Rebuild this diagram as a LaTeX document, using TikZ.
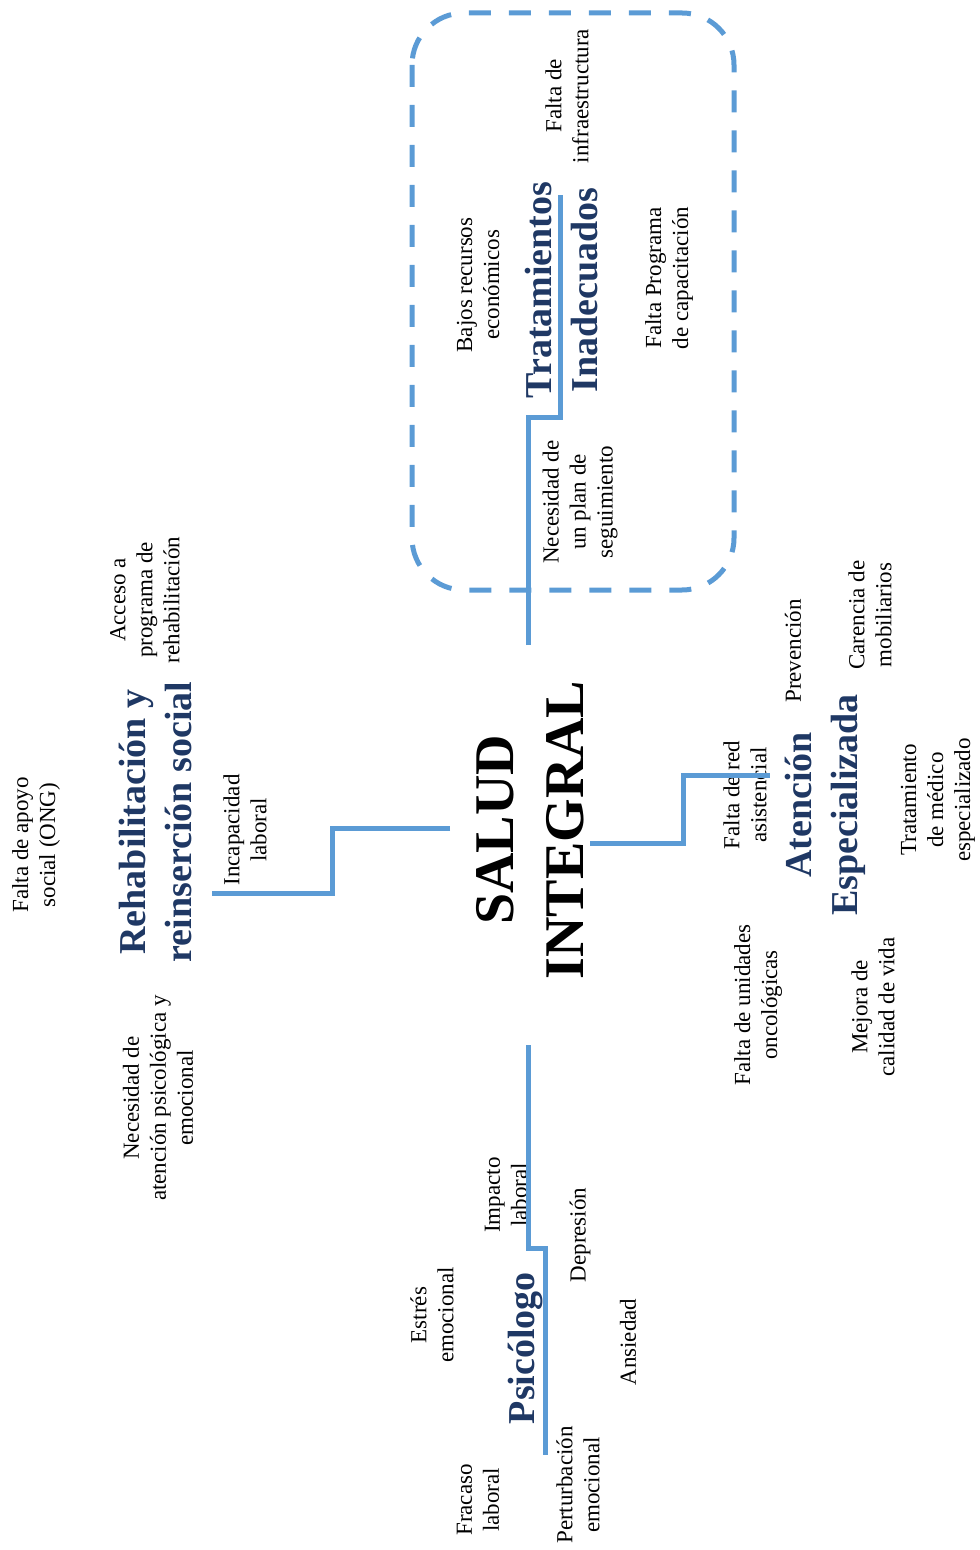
\documentclass[tikz,border=0pt]{standalone}
\usepackage{fontspec}
\setmainfont{Liberation Serif}
\definecolor{lineblue}{RGB}{91,155,213}
\definecolor{navy}{RGB}{31,56,100}
\tikzset{
  lbl/.style={rotate=90, align=center, font=\fontsize{11.5}{13.5}\selectfont, inner sep=0pt},
  hdr/.style={rotate=90, align=center, font=\fontsize{19}{23}\selectfont\bfseries, text=navy, inner sep=0pt},
  title/.style={rotate=90, align=center, font=\fontsize{28}{35}\selectfont\bfseries, text=black, inner sep=0pt},
  branch/.style={draw=lineblue, line width=2.5pt},
  dashbox/.style={draw=lineblue, line width=2.5pt, dash pattern=on 11pt off 9pt, rounded corners=26pt}
}
\begin{document}
\begin{tikzpicture}[x=0.5pt,y=-0.5pt]
\useasboundingbox (0,0) rectangle (979,1550);

% dashed frame
\draw[dashbox] (412,13) rectangle (734,590);

% central node
\node[title] (salud) at (530,830) {SALUD\\INTEGRAL};

% Tratamientos group
\node[hdr] (trat) at (562,290) {Tratamientos\\Inadecuados};
\node[lbl] (bajos) at (478,285) {Bajos recursos\\económicos};
\node[lbl] (infra) at (567,96) {Falta de\\infraestructura};
\node[lbl] (capac) at (669,278) {Falta Programa\\de capacitación};
\node[lbl] (segui) at (580,502) {Necesidad de\\un plan de\\seguimiento};

% Rehabilitacion group
\node[hdr] (rehab) at (155,822) {Rehabilitación y\\reinserción social};
\node[lbl] (ong) at (36,845) {Falta de apoyo\\social (ONG)};
\node[lbl] (acceso) at (145,600) {Acceso a\\programa de\\rehabilitación};
\node[lbl] (necat) at (158,1098) {Necesidad de\\atención psicológica y\\emocional};
\node[lbl] (incap) at (245,830) {Incapacidad\\laboral};

% Atencion group
\node[hdr] (atenc) at (825,805) {Atención\\Especializada};
\node[lbl] (red) at (745,795) {Falta de red\\asistencial};
\node[lbl] (prev) at (793,651) {Prevención};
\node[lbl] (mobil) at (870,615) {Carencia de\\mobiliarios};
\node[lbl] (medico) at (938,800) {Tratamiento\\de médico\\especializado};
\node[lbl] (onco) at (758,1005) {Falta de unidades\\oncológicas};
\node[lbl] (mejora) at (873,1007) {Mejora de\\calidad de vida};

% Psicologo group
\node[hdr] (psico) at (525,1348) {Psicólogo};
\node[lbl] (impacto) at (506,1195) {Impacto\\laboral};
\node[lbl] (depre) at (580,1235) {Depresión};
\node[lbl] (estres) at (432,1315) {Estrés\\emocional};
\node[lbl] (ansie) at (628,1342) {Ansiedad};
\node[lbl] (fracaso) at (478,1500) {Fracaso\\laboral};
\node[lbl] (pertur) at (578,1485) {Perturbación\\emocional};

% branch coordinates
\coordinate (tA) at (528,645);
\coordinate (tB) at (528,418);
\coordinate (tC) at (560,418);
\coordinate (tD) at (560,195);
\coordinate (rA) at (450,828);
\coordinate (rB) at (332,828);
\coordinate (rC) at (332,893);
\coordinate (rD) at (212,893);
\coordinate (aA) at (590,843);
\coordinate (aB) at (683,843);
\coordinate (aC) at (683,775);
\coordinate (aD) at (770,775);
\coordinate (pA) at (528,1045);
\coordinate (pB) at (528,1248);
\coordinate (pC) at (545,1248);
\coordinate (pD) at (545,1455);

\draw[branch] (tA) -- (tB) -- (tC) -- (tD);
\draw[branch] (rA) -- (rB) -- (rC) -- (rD);
\draw[branch] (aA) -- (aB) -- (aC) -- (aD);
\draw[branch] (pA) -- (pB) -- (pC) -- (pD);
\end{tikzpicture}
\end{document}
